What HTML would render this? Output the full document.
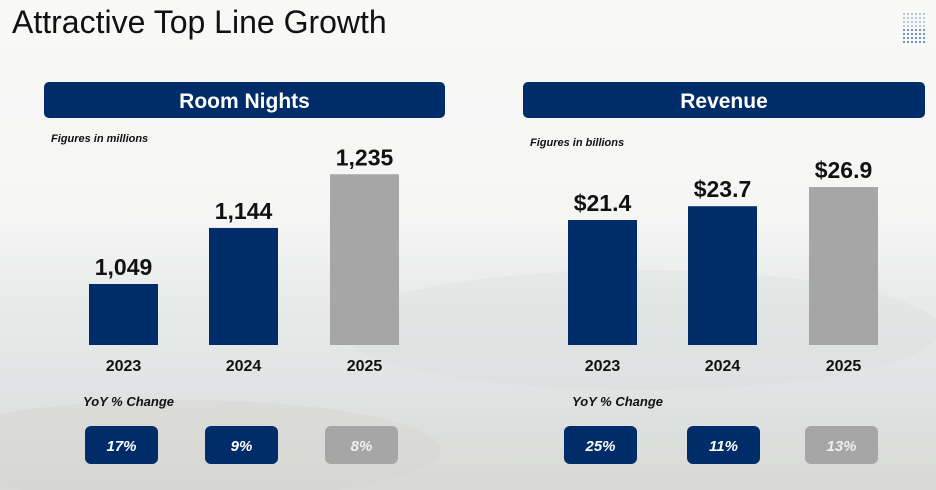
<!DOCTYPE html>
<html><head><meta charset="utf-8"><style>
body{margin:0;width:936px;height:490px;overflow:hidden;font-family:"Liberation Sans","DejaVu Sans",sans-serif;}
#bg{position:absolute;left:0;top:0;width:936px;height:490px;background:linear-gradient(180deg,#f8f8f7 0%,#f5f5f4 45%,#e9ebeb 60%,#e0e3e3 80%,#d8d9d6 100%);}
</style></head><body>
<div id="bg"></div>
<svg id="chart" width="936" height="490" style="position:absolute;left:0;top:0">
<ellipse cx="640" cy="330" rx="300" ry="60" fill="#d8dbdb" opacity="0.3"/>
<ellipse cx="180" cy="450" rx="260" ry="50" fill="#d4d2cc" opacity="0.35"/>
<text x="12" y="33" font-size="32" fill="#111">Attractive Top Line Growth</text>
<g id="logo"></g>
</svg>
<script>
const years=["2023","2024","2025"];
const roomNights=[1049,1144,1235];
const roomLabels=["1,049","1,144","1,235"];
const roomYoY=["17%","9%","8%"];
const revenue=[21.4,23.7,26.9];
const revLabels=["$21.4","$23.7","$26.9"];
const revYoY=["25%","11%","13%"];
const NS="http://www.w3.org/2000/svg";
const svg=document.getElementById('chart');
function mk(t,a,p){const e=document.createElementNS(NS,t);for(const k in a)e.setAttribute(k,a[k]);(p||svg).appendChild(e);return e;}
const logo=document.getElementById('logo');
for(let r=0;r<8;r++)for(let c=0;c<6;c++){mk('rect',{x:903+c*4,y:13+r*4,width:2,height:2,fill:r<4?'#b9c7dc':'#6f93c9'},logo);}
function panel(cfg){
  const g=mk('g',{});
  
  
  const h=mk('rect',{x:cfg.hx,y:82,width:cfg.hw,height:36,rx:5,fill:'#002d6a'},g);
  
  
  const ht=mk('text',{x:cfg.hx+cfg.hw/2,y:108,'text-anchor':'middle','font-size':21,'font-weight':'bold',fill:'#fff'},g);ht.textContent=cfg.title;
  
  
  const n=mk('text',{x:cfg.nx,y:cfg.ny,'font-size':11,'font-style':'italic','font-weight':'bold',fill:'#111'},g);n.textContent=cfg.note;
  
  
  const base=345;
  const yScale=v=>base-cfg.k*(v-cfg.min);
  cfg.vals.forEach((v,i)=>{
    const x=cfg.bx[i];const col=i==2?'#a6a6a6':'#002d6a';
    const b=mk('rect',{x:x,y:yScale(v),width:69,height:base-yScale(v),fill:col},g);
    
    
    const l=mk('text',{x:x+34.5,y:yScale(v)-9,'text-anchor':'middle','font-size':23,'font-weight':'bold',fill:'#111'},g);l.textContent=cfg.labels[i];
    
    
    const yl=mk('text',{x:x+34.5,y:371,'text-anchor':'middle','font-size':16,'font-weight':'bold',fill:'#111'},g);yl.textContent=years[i];
    
    
    const bx=cfg.yx[i];
    const yb=mk('rect',{x:bx,y:426,width:73,height:38,rx:6,fill:col},g);
    
    
    const yt=mk('text',{x:bx+36.5,y:451,'text-anchor':'middle','font-size':15,'font-weight':'bold','font-style':'italic',fill:i==2?'#eee':'#fff'},g);yt.textContent=cfg.yoy[i];
    
    
  });
  const yy=mk('text',{x:cfg.yyx,y:406,'font-size':13,'font-weight':'bold','font-style':'italic',fill:'#111'},g);yy.textContent='YoY % Change';
  
  
}
panel({name:'room-nights-panel',title:'Room Nights',hx:44,hw:401,note:'Figures in millions',nx:51,ny:142,vals:roomNights,labels:roomLabels,yoy:roomYoY,k:0.59,min:945.6,bx:[89,209,330],yx:[85,205,325],yyx:83});
panel({name:'revenue-panel',title:'Revenue',hx:523,hw:402,note:'Figures in billions',nx:530,ny:146,vals:revenue,labels:revLabels,yoy:revYoY,k:6.0,min:0.57,bx:[568,688,809],yx:[564,687,805],yyx:572});
</script>
</body></html>
